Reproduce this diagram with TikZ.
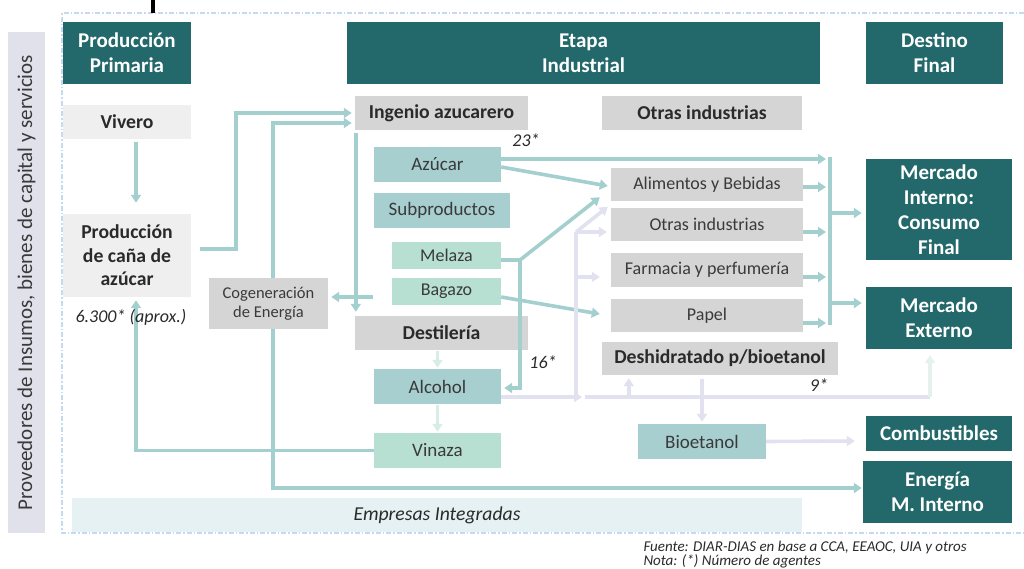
\documentclass[tikz,border=0pt]{standalone}
\usepackage{fontspec}
\setmainfont{Carlito}
\usetikzlibrary{arrows.meta,calc}
\definecolor{hdr}{HTML}{23686A}
\definecolor{tline}{HTML}{A3CFCF}
\definecolor{tbox}{HTML}{A7CFCF}
\definecolor{mintbox}{HTML}{B7E0D3}
\definecolor{graybox}{HTML}{D5D5D5}
\definecolor{lgray}{HTML}{EFEFEF}
\definecolor{lav}{HTML}{E1E1EF}
\definecolor{lavmint}{HTML}{E4F2EB}
\definecolor{lmint}{HTML}{D6EEE5}
\definecolor{leftbg}{HTML}{E1E1EC}
\definecolor{band}{HTML}{E6F1F3}
\definecolor{dotc}{HTML}{C5DAF0}
\definecolor{txt}{HTML}{2A2A2A}
\definecolor{txtr}{HTML}{3A3A3A}
\begin{document}
\begin{tikzpicture}[x=1pt,y=-1pt,
  bx/.style={inner sep=0pt, align=center, text=txt},
  hbox/.style={bx, fill=hdr, text=white, font=\fontsize{21}{25}\selectfont\bfseries},
  gbox/.style={bx, fill=graybox, font=\fontsize{19.7}{23}\selectfont\bfseries},
  gboxr/.style={bx, fill=graybox, text=txtr, font=\fontsize{18}{22}\selectfont},
  tboxs/.style={bx, fill=tbox, text=txtr, font=\fontsize{19}{23}\selectfont},
  mboxs/.style={bx, fill=mintbox, text=txtr, font=\fontsize{18}{22}\selectfont},
  tl/.style={draw=tline, line width=3.6pt},
  lv/.style={draw=lav, line width=3.6pt},
  lvm/.style={draw=lavmint, line width=3.6pt},
  lm/.style={draw=lmint, line width=3.6pt},
  ar/.style={-{Triangle[length=8pt,width=10pt]}},
  num/.style={text=txt, font=\fontsize{18}{22}\selectfont\itshape}
]
\useasboundingbox (0,0) rectangle (1024,569);

% frame
\draw[dotc, line width=1.6pt, dash pattern=on 5pt off 2pt on 1.5pt off 2pt]
  (1024,13) -- (62,13) -- (62,533) -- (1024,533);
\draw[black, line width=3.5pt] (153,0) -- (153,13);

% left label
\node[bx, fill=leftbg, minimum width=37pt, minimum height=501pt] (prov) at (26.5,282.5) {};
\node[rotate=90, text=txtr, font=\fontsize{21}{25}\selectfont] (provt) at (prov.center) {Proveedores de Insumos, bienes de capital y servicios};

% band
\node[bx, fill=band, minimum width=730pt, minimum height=34pt, font=\fontsize{19.7}{23}\selectfont\itshape] (emp) at (437,515) {Empresas Integradas};

% headers
\node[hbox, minimum width=128pt, minimum height=62pt] (hPP) at (127,53) {Producción\\Primaria};
\node[hbox, minimum width=473pt, minimum height=62pt] (hEI) at (583.5,53) {Etapa\\Industrial};
\node[hbox, minimum width=137pt, minimum height=62pt] (hDF) at (934.5,53) {Destino\\Final};

% primary
\node[bx, fill=lgray, minimum width=128pt, minimum height=34pt, font=\fontsize{19.7}{23}\selectfont\bfseries] (vivero) at (127,122) {Vivero};
\node[bx, fill=lgray, minimum width=128pt, minimum height=83pt, font=\fontsize{19.7}{23.5}\selectfont\bfseries] (cana) at (127,255.5) {Producción\\de caña de\\azúcar};
\node[bx, fill=graybox, text=txtr, minimum width=119pt, minimum height=51pt, font=\fontsize{16.5}{19}\selectfont] (cogen) at (268.5,303.5) {Cogeneración\\de Energía};

% industrial
\node[gbox, minimum width=173pt, minimum height=34pt] (ingenio) at (441.5,113) {Ingenio azucarero};
\node[tboxs, minimum width=127pt, minimum height=35pt] (azucar) at (437.5,164.5) {Azúcar};
\node[tboxs, minimum width=136pt, minimum height=35pt] (subprod) at (442,210.5) {Subproductos};
\node[mboxs, minimum width=109pt, minimum height=27pt] (melaza) at (446.5,255.5) {Melaza};
\node[mboxs, minimum width=109pt, minimum height=27pt] (bagazo) at (446.5,291.5) {Bagazo};
\node[gbox, minimum width=173pt, minimum height=34pt] (destil) at (441.5,333) {Destilería};
\node[tboxs, minimum width=127pt, minimum height=35pt] (alcohol) at (437.5,386.5) {Alcohol};
\node[mboxs, minimum width=127pt, minimum height=35pt, font=\fontsize{19}{23}\selectfont] (vinaza) at (437.5,450.5) {Vinaza};

\node[gbox, minimum width=200pt, minimum height=34pt] (otrasH) at (702,113) {Otras industrias};
\node[gboxr, minimum width=192pt, minimum height=33pt] (alim) at (707,184.5) {Alimentos y Bebidas};
\node[gboxr, minimum width=192pt, minimum height=33pt] (otras) at (707,224.5) {Otras industrias};
\node[gboxr, minimum width=192pt, minimum height=34pt] (farm) at (707,270) {Farmacia y perfumería};
\node[gboxr, minimum width=192pt, minimum height=33pt] (papel) at (707,315.5) {Papel};
\node[gbox, minimum width=236pt, minimum height=33pt] (deshid) at (720,358.5) {Deshidratado p/bioetanol};
\node[tboxs, minimum width=128pt, minimum height=35pt] (bioet) at (702,441.5) {Bioetanol};

% destino
\node[hbox, minimum width=146pt, minimum height=101pt] (mint) at (939,209.5) {Mercado\\Interno:\\Consumo\\Final};
\node[hbox, minimum width=146pt, minimum height=62pt] (mext) at (939,318) {Mercado\\Externo};
\node[hbox, minimum width=146pt, minimum height=35pt] (comb) at (939,433.5) {Combustibles};
\node[hbox, minimum width=149pt, minimum height=62pt] (energ) at (937.5,492) {Energía\\M. Interno};

% teal connectors
\draw[tl,ar] ($(vivero.south)+(9,3)$) -- ($(cana.north)+(9,-11)$);
\draw[tl,ar] ($(cana.east)+(9,-6.5)$) -| ($(ingenio.west)+(-119,0)$) -- ($(ingenio.west)+(-3,0)$);
\draw[tl,ar] ($(cogen.north)+(4.5,0)$) |- ($(ingenio.west)+(-3,10)$);
\draw[tl,ar] ($(cogen.south)+(4.5,0)$) |- ($(energ.west)+(-1,-4)$);
\draw[tl,ar] (vinaza.west) -| ($(cana.south)+(9,3)$);
\draw[tl,ar] ($(ingenio.south west)+(1,3)$) -- ($(destil.north west)+(1,-4)$);
\draw[tl,ar] ($(bagazo.west)+(-19,5.5)$) -- ($(cogen.east)+(3,-6.5)$);

\coordinate (busT) at (830,159);
\coordinate (busB) at (830,323);
\draw[tl] ($(busT)+(0,-1.8)$) -- ($(busB)+(0,1.8)$);
\draw[tl,ar] ($(azucar.east)+(0,-5.5)$) -- ($(busT)+(-4,0)$);
\draw[tl,ar] ($(alim.east)+(0,2.5)$) -- ($(alim.east -| busT)+(-4,2.5)$);
\draw[tl,ar] ($(otras.east)+(0,7.5)$) -- ($(otras.east -| busT)+(-4,7.5)$);
\draw[tl,ar] ($(farm.east)+(0,7)$) -- ($(farm.east -| busT)+(-4,7)$);
\draw[tl,ar] ($(papel.east)+(0,7.5)$) -- ($(papel.east -| busT)+(-4,7.5)$);
\draw[tl,ar] ($(mint.west -| busT)+(0,3.5)$) -- ($(mint.west)+(-4,3.5)$);
\draw[tl,ar] ($(mext.west -| busT)+(0,-15)$) -- ($(mext.west)+(-4,-15)$);

\draw[tl,ar] ($(azucar.east)+(0,2.5)$) -- ($(alim.west)+(-3,1.5)$);
\coordinate (mj) at (520,260);
\draw[tl] ($(melaza.east)+(0,4.5)$) -- (mj);
\draw[tl,ar] (mj) -- ($(alim.south west)+(-11,-4)$);
\draw[tl,ar] (mj) |- ($(alcohol.east)+(3,1.5)$);
\draw[tl,ar] ($(bagazo.east)+(0,5.5)$) -- ($(papel.west)+(-11,-1.5)$);

% light mint
\draw[lm,ar] ($(alcohol.north |- destil.south)+(0,1)$) -- ($(alcohol.north)+(0,-1)$);
\draw[lm,ar] ($(alcohol.south)+(0,1)$) -- ($(vinaza.north)+(0,-1)$);

% lavender
\coordinate (lj) at (576,397);
\coordinate (lk) at (576,232);
\coordinate (lr) at (930,397);
\draw[lv,ar] ($(alcohol.east)+(0,10.5)$) -- ($(lj)+(6,0)$);
\draw[lv] (lj) -- (lk);
\draw[lv,ar] (lk) -- ($(otras.north west)+(-3,-1)$);
\draw[lv,ar] (lk) -- ($(otras.west)+(-4,7.5)$);
\draw[lv,ar] ($(lk |- farm.west)+(0,7)$) -- ($(farm.west)+(-11,7)$);
\draw[lv] ($(lj)+(9,0)$) -- (lr);
\draw[lvm,ar] (lr) -- ($(mext.south)+(-9,6)$);
\draw[lv,ar] ($(deshid.south west)+(27,22)$) -- ($(deshid.south west)+(27,3)$);
\draw[lv,ar] ($(deshid.south -| bioet.north)+(0,4)$) -- ($(bioet.north)+(0,-2)$);
\draw[lv,ar] (bioet.east) -- ($(comb.west)+(-11,7.5)$);

% numbers
\node[num] (n6300) at (131,317) {6.300* (aprox.)};
\node[num] (n23) at (526,140) {23*};
\node[num] (n16) at (543,362) {16*};
\node[num] (n9) at (819,385) {9*};

% footnote
\node[anchor=west, text=txt, font=\fontsize{15}{17}\selectfont\itshape] (fte) at (640,547) {Fuente: DIAR-DIAS en base a CCA, EEAOC, UIA y otros};
\node[anchor=west, text=txt, font=\fontsize{15}{17}\selectfont\itshape] (nota) at (640,561) {Nota: (*) Número de agentes};
\end{tikzpicture}
\end{document}
